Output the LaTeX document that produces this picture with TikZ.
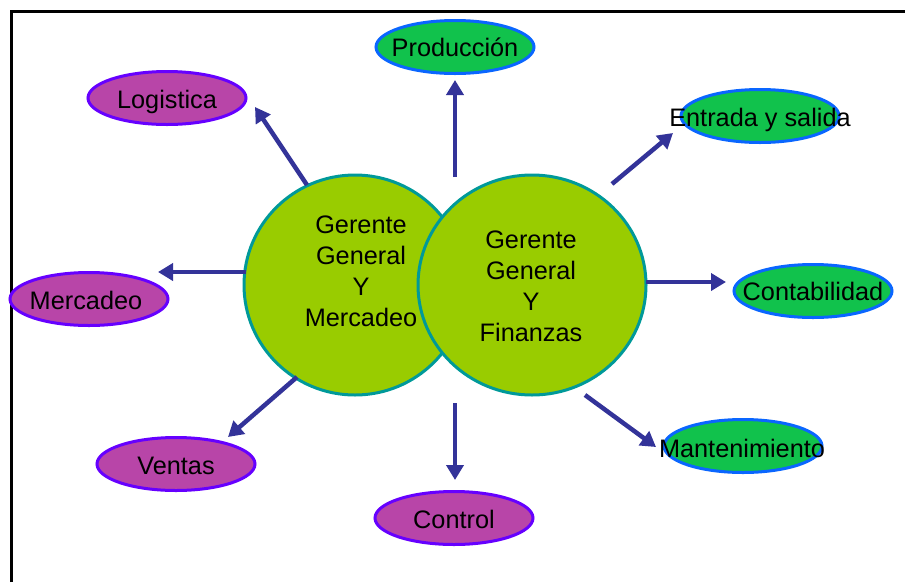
\documentclass[tikz,border=0pt]{standalone}
\usepackage{fontspec}
\setmainfont{Liberation Sans}
\usetikzlibrary{arrows.meta,shapes.geometric}
\definecolor{arrowblue}{HTML}{333399}
\definecolor{circfill}{HTML}{99CC00}
\definecolor{circline}{HTML}{009999}
\definecolor{purfill}{HTML}{B845A8}
\definecolor{purline}{HTML}{6600FF}
\definecolor{grnfill}{HTML}{11C24C}
\definecolor{grnline}{HTML}{0A66FF}
\tikzset{
  bigcirc/.style={ellipse, draw=circline, fill=circfill, line width=3pt, inner sep=0pt},
  purell/.style={ellipse, draw=purline, fill=purfill, line width=3pt, minimum width=158pt, minimum height=53pt, inner sep=0pt},
  grnell/.style={ellipse, draw=grnline, fill=grnfill, line width=3pt, minimum width=158pt, minimum height=53pt, inner sep=0pt},
  lbl/.style={font=\fontsize{25.3}{31}\selectfont, text height=18pt, text depth=0pt, inner sep=0pt},
  ctext/.style={font=\fontsize{25.3}{31}\selectfont, align=center, inner sep=0pt},
  arr/.style={draw=arrowblue, line width=4.5pt, -{Triangle[length=15pt,width=17pt]}},
}
\begin{document}
\begin{tikzpicture}[x=1pt,y=-1pt]
\useasboundingbox (0,0) rectangle (905,582);
\draw[line width=3.5pt] (11.5,582) -- (11.5,11.5) -- (905,11.5);
% central circles
\node[bigcirc, minimum width=222pt, minimum height=220pt] (gm) at (355,285) {};
\node[bigcirc, minimum width=228pt, minimum height=220pt] (gf) at (532,285) {};
\node[ctext] (gmt) at (361,271) {Gerente\\General\\Y\\Mercadeo};
\node[ctext] (gft) at (531,286) {Gerente\\General\\Y\\Finanzas};
% ellipses
\node[grnell] (prod) at (455,47) {};
\node[lbl] (prodt) at (455,47) {Producción};
\node[purell] (logi) at (167,98) {};
\node[lbl] (logit) at (167,99) {Logistica};
\node[grnell] (entr) at (760,116) {};
\node[lbl] (entrt) at (760,117) {Entrada y salida};
\node[purell] (merc) at (89,299) {};
\node[lbl] (merct) at (86,300) {Mercadeo};
\node[grnell] (cont) at (813,291) {};
\node[lbl] (contt) at (813,291) {Contabilidad};
\node[purell] (vent) at (176,464) {};
\node[lbl] (ventt) at (176,465) {Ventas};
\node[purell] (ctrl) at (454,518) {};
\node[lbl] (ctrlt) at (454,519) {Control};
\node[grnell] (mant) at (743,446) {};
\node[lbl] (mantt) at (742,448) {Mantenimiento};
% arrow end coordinates
\coordinate (prodA) at (455,177);
\coordinate (prodB) at (455,80);
\coordinate (logiA) at (307,185);
\coordinate (logiB) at (255,107);
\coordinate (entrA) at (612,184);
\coordinate (entrB) at (673,133);
\coordinate (mercA) at (246,272);
\coordinate (mercB) at (158,272);
\coordinate (contA) at (646,282);
\coordinate (contB) at (726,282);
\coordinate (ventA) at (297,377);
\coordinate (ventB) at (228,437);
\coordinate (ctrlA) at (455,403);
\coordinate (ctrlB) at (455,480);
\coordinate (mantA) at (585,395);
\coordinate (mantB) at (656,447);
\draw[arr] (prodA) -- (prodB);
\draw[arr] (logiA) -- (logiB);
\draw[arr] (entrA) -- (entrB);
\draw[arr] (mercA) -- (mercB);
\draw[arr] (contA) -- (contB);
\draw[arr] (ventA) -- (ventB);
\draw[arr] (ctrlA) -- (ctrlB);
\draw[arr] (mantA) -- (mantB);
\end{tikzpicture}
\end{document}
